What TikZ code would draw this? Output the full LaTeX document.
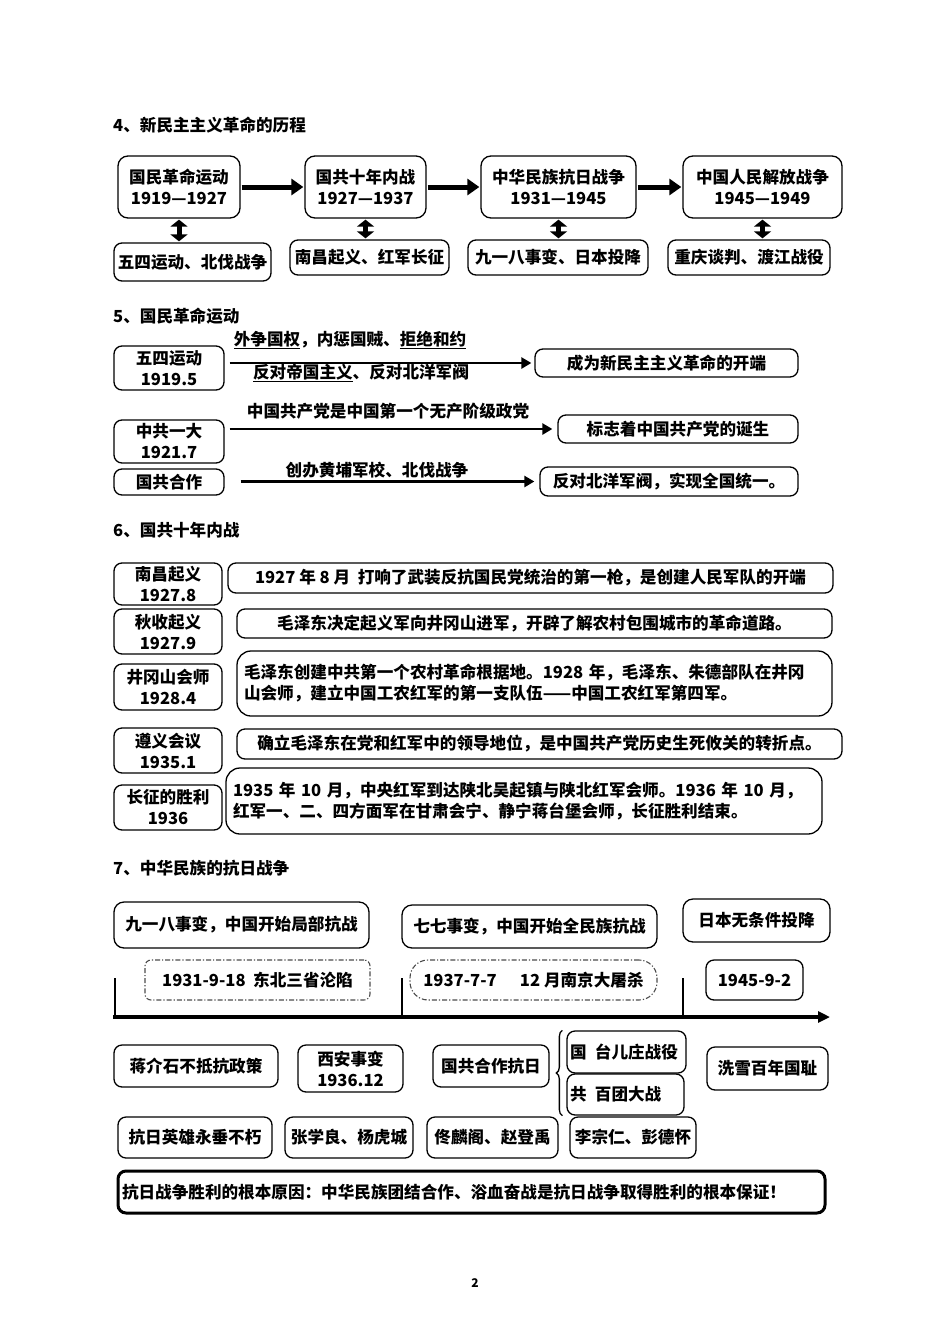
\documentclass[tikz,border=0pt]{standalone}
\usepackage{fontspec}
\setmainfont{Noto Sans CJK SC}
\usetikzlibrary{arrows.meta,decorations.pathreplacing}

\begin{document}
\begin{tikzpicture}[x=1pt,y=-1pt,font=\fontsize{16.6}{21}\selectfont\bfseries,
  box/.style={draw, rounded corners=8pt, line width=1.3pt, align=center, inner sep=2pt},
  sz/.style 2 args={minimum width=#1pt, minimum height=#2pt},
  title/.style={anchor=west, inner sep=0pt},
  lbl/.style={inner sep=0pt},
  dashdot/.style={draw=black!70, line width=1.1pt, dash pattern=on 5pt off 2pt on 1.2pt off 2pt},
  bigarrow/.style={line width=5pt, -{Triangle[length=12pt,width=16pt]}, shorten >=1pt, shorten <=1pt},
  dblarrow/.style={line width=5pt, {Triangle[length=7pt,width=17pt]}-{Triangle[length=7pt,width=17pt]}, shorten >=1pt, shorten <=1pt},
  arrow/.style={line width=2.8pt, -{Triangle[length=10pt,width=11pt]}}]
  \fill[white] (0,0) rectangle (950,1344);
  \useasboundingbox (0,0) rectangle (950,1344);

  % ---- 4 ----
  \node[title] (t4) at (113,125) {4、新民主主义革命的历程};
  \foreach \i/\x/\w/\nm/\yrs in {
    1/179/122/国民革命运动/1919—1927,
    2/365.5/121/国共十年内战/1927—1937,
    3/558.5/155/中华民族抗日战争/1931—1945,
    4/762.5/159/中国人民解放战争/1945—1949} {
    \node[box, rounded corners=10pt, sz={\w}{62}] (era\i) at (\x,187) {\nm\\\yrs};
  }
  \foreach \i/\x/\y/\w/\h/\txt in {
    1/192.5/262/157/38/五四运动、北伐战争,
    2/369.5/257.5/159/35/南昌起义、红军长征,
    3/558/257.5/180/35/九一八事变、日本投降,
    4/749/257.5/162/35/重庆谈判、渡江战役} {
    \node[box, sz={\w}{\h}] (ev\i) at (\x,\y) {\txt};
    \draw[dblarrow] (era\i.south) -- (era\i.south |- ev\i.north);
  }
  \foreach \i/\j in {1/2,2/3,3/4}
    \draw[bigarrow] (era\i) -- (era\j);

  % ---- 5 ----
  \node[title] (t5) at (113,316) {5、国民革命运动};
  \node[box, sz={110}{44}] (wusi) at (169,368) {五四运动\\1919.5};
  \node[box, sz={263}{28}] (res1) at (666.5,363) {成为新民主主义革命的开端};
  \draw[arrow, shorten <=5pt, shorten >=3pt] (wusi.east |- res1.west) -- (res1.west);
  \node[lbl] (lab1a) at (350,340) {\underline{外争国权}，内惩国贼、\underline{拒绝和约}};
  \node[lbl] (lab1b) at (361,373) {\underline{反对帝国主义}、反对北洋军阀};

  \node[box, sz={110}{43}] (yida) at (169,441.5) {中共一大\\1921.7};
  \node[box, sz={240}{28}] (res2) at (678,429) {标志着中国共产党的诞生};
  \draw[arrow, shorten <=5pt, shorten >=5pt] (yida.east |- res2.west) -- (res2.west);
  \node[lbl] (lab2) at (388,411) {中国共产党是中国第一个无产阶级政党};

  \node[box, sz={110}{26}] (hezuo) at (169,482) {国共合作};
  \node[box, sz={258}{29}] (res3) at (669,481.5) {反对北洋军阀，实现全国统一。};
  \draw[arrow, shorten <=16pt, shorten >=5pt] (hezuo.east |- res3.west) -- (res3.west);
  \node[lbl] (lab3) at (377,470) {创办黄埔军校、北伐战争};

  % ---- 6 ----
  \node[title] (t6) at (113,530) {6、国共十年内战};
  \foreach \i/\y/\h/\nm/\dt in {
    1/584/42/南昌起义/1927.8,
    2/631.5/45/秋收起义/1927.9,
    3/687/46/井冈山会师/1928.4,
    4/750.5/45/遵义会议/1935.1,
    5/807.5/45/长征的胜利/1936} {
    \node[box, sz={108}{\h}] (war\i) at (168,\y) {\nm\\\dt};
  }
  \node[box, sz={605}{30}] (note1) at (530.5,578) {1927 年 8 月\ \ 打响了武装反抗国民党统治的第一枪，是创建人民军队的开端};
  \node[box, sz={595}{29}] (note2) at (534.5,623.5) {毛泽东决定起义军向井冈山进军，开辟了解农村包围城市的革命道路。};
  \node[box, sz={595}{65}, align=left, inner xsep=7pt, text width=581pt, rounded corners=14pt] (note3) at (534.5,683.5)
    {毛泽东创建中共第一个农村革命根据地。1928 年，毛泽东、朱德部队在井冈\\山会师，建立中国工农红军的第一支队伍——中国工农红军第四军。};
  \node[box, sz={605}{30}] (note4) at (539.5,744) {确立毛泽东在党和红军中的领导地位，是中国共产党历史生死攸关的转折点。};
  \node[box, sz={596}{66}, align=left, inner xsep=7pt, text width=582pt, rounded corners=14pt] (note5) at (524,801)
    {1935 年 10 月，中央红军到达陕北吴起镇与陕北红军会师。1936 年 10 月，\\红军一、二、四方面军在甘肃会宁、静宁蒋台堡会师，长征胜利结束。};

  % ---- 7 ----
  \node[title] (t7) at (113,868) {7、中华民族的抗日战争};
  \node[box, sz={255}{46}, rounded corners=10pt] (stage1) at (241.5,925) {九一八事变，中国开始局部抗战};
  \node[box, sz={255}{43}, rounded corners=10pt] (stage2) at (529.5,926.5) {七七事变，中国开始全民族抗战};
  \node[box, sz={147}{43}, rounded corners=10pt] (stage3) at (756.5,920.5) {日本无条件投降};
  \node[dashdot, rounded corners=6pt, sz={225}{40}] (date1) at (257.5,980) {1931-9-18\ \ 东北三省沦陷};
  \node[dashdot, rounded corners=18pt, sz={247}{40}] (date2) at (533.5,980) {1937-7-7\hspace{1.4em}12 月南京大屠杀};
  \node[box, sz={97}{40}] (date3) at (754.5,980) {1945-9-2};
  % time axis
  \coordinate (ax0) at (113,1017);
  \coordinate (ax1) at (830,1017);
  \draw[line width=3.5pt, -{Triangle[length=12pt,width=11pt]}] (ax0) -- (ax1);
  \foreach \x in {115,402,683}
    \draw[line width=2.4pt] (\x,978) -- (\x,1017);

  \node[box, sz={164}{42}] (pol) at (196,1066) {蒋介石不抵抗政策};
  \node[box, sz={105}{47}] (xian) at (350.5,1068.5) {西安事变\\1936.12};
  \node[box, sz={116}{42}] (kang) at (491,1066) {国共合作抗日};
  \node[box, sz={119}{42}, align=left, text width=113pt, inner xsep=3pt] (gmd) at (626.5,1052) {国\hspace{0.5em}台儿庄战役};
  \node[box, sz={117}{41}, align=left, text width=111pt, inner xsep=3pt] (gcd) at (625.5,1094.5) {共\hspace{0.5em}百团大战};
  \draw[line width=1.3pt, decorate, decoration={brace, amplitude=6pt}]
    ([xshift=-4pt]gcd.south west) -- ([xshift=-4pt]gmd.north west);
  \node[box, sz={121}{43}] (xue) at (767.5,1068.5) {洗雪百年国耻};
  \foreach \i/\x/\w/\txt in {
    1/195/154/抗日英雄永垂不朽,
    2/349/128/张学良、杨虎城,
    3/492.5/131/佟麟阁、赵登禹,
    4/633/126/李宗仁、彭德怀} {
    \node[box, sz={\w}{41}] (hero\i) at (\x,1137.5) {\txt};
  }
  \node[box, line width=3pt, sz={707}{42}, align=left, text width=699pt, inner xsep=4pt] (why) at (471.5,1192)
    {抗日战争胜利的根本原因：中华民族团结合作、浴血奋战是抗日战争取得胜利的根本保证！};

  \node (pg) at (475,1283) {\fontsize{12}{14}\selectfont 2};
\end{tikzpicture}
\end{document}
